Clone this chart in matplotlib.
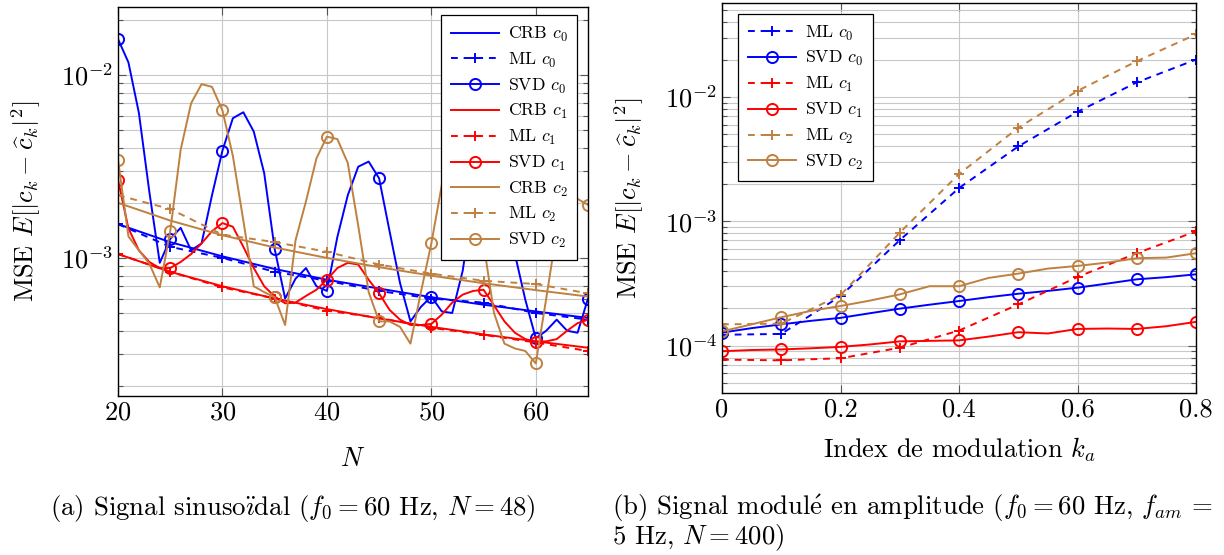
import matplotlib
matplotlib.use('Agg')
import matplotlib.pyplot as plt
from matplotlib.ticker import LogLocator, NullFormatter, MultipleLocator, FuncFormatter

plt.rcParams['font.family'] = ['cmr10', 'DejaVu Serif']
plt.rcParams['mathtext.fontset'] = 'cm'
plt.rcParams['axes.formatter.use_mathtext'] = True

BLUE = '#0000ff'
RED = '#ff0000'
BROWN = '#bf8040'

# ---- (a) signal sinusoidal : MSE vs N ----
n_all = list(range(20, 66))
n_step = list(range(20, 66, 5))

crb_c0 = [1.53e-3, 1.22e-3, 1.02e-3, 8.7e-4, 7.6e-4, 6.8e-4, 6.1e-4, 5.55e-4, 5.1e-4, 4.7e-4]
crb_c1 = [1.05e-3, 8.4e-4, 7.0e-4, 6.0e-4, 5.25e-4, 4.67e-4, 4.2e-4, 3.82e-4, 3.5e-4, 3.23e-4]
crb_c2 = [2.0e-3, 1.6e-3, 1.33e-3, 1.14e-3, 1.0e-3, 8.9e-4, 8.0e-4, 7.27e-4, 6.67e-4, 6.15e-4]

ml_c0 = [1.53e-3, 1.15e-3, 1.0e-3, 8.4e-4, 7.5e-4, 6.6e-4, 6.0e-4, 5.7e-4, 5.0e-4, 4.6e-4]
ml_c1 = [1.05e-3, 8.4e-4, 6.9e-4, 6.0e-4, 5.15e-4, 4.7e-4, 4.15e-4, 3.8e-4, 3.45e-4, 3.1e-4]
ml_c2 = [2.2e-3, 1.85e-3, 1.34e-3, 1.22e-3, 1.08e-3, 9.2e-4, 8.2e-4, 7.5e-4, 7.2e-4, 6.4e-4]

svd_c0 = [1.57e-2, 1.17e-2, 6.2e-3, 2.3e-3, 9.4e-4, 1.27e-3, 1.46e-3, 1.1e-3, 1.2e-3, 2.2e-3,
          3.86e-3, 5.8e-3, 6.25e-3, 4.9e-3, 2.9e-3, 1.12e-3, 6.0e-4, 7.7e-4, 8.8e-4, 7.0e-4,
          6.6e-4, 1.3e-3, 2.2e-3, 3.15e-3, 3.36e-3, 2.72e-3, 1.4e-3, 7.3e-4, 4.5e-4, 5.4e-4,
          6.15e-4, 5.1e-4, 5.0e-4, 8.5e-4, 2.0e-3, 3.0e-3, 3.3e-3, 2.4e-3, 1.05e-3, 5.9e-4,
          3.64e-4, 4.0e-4, 4.6e-4, 4.0e-4, 3.9e-4, 6.0e-4]
svd_c1 = [2.67e-3, 1.45e-3, 1.1e-3, 9.5e-4, 8.8e-4, 8.8e-4, 9.5e-4, 1.05e-3, 1.2e-3, 1.4e-3,
          1.55e-3, 1.48e-3, 1.15e-3, 8.8e-4, 7.0e-4, 6.15e-4, 5.65e-4, 5.7e-4, 6.2e-4, 6.7e-4,
          7.6e-4, 8.8e-4, 9.4e-4, 9.2e-4, 7.6e-4, 6.4e-4, 5.2e-4, 4.6e-4, 4.3e-4, 4.3e-4,
          4.36e-4, 4.9e-4, 5.7e-4, 6.3e-4, 6.6e-4, 6.7e-4, 5.5e-4, 4.5e-4, 3.9e-4, 3.6e-4,
          3.49e-4, 3.5e-4, 3.6e-4, 4.0e-4, 4.4e-4, 4.6e-4]
svd_c2 = [3.44e-3, 1.31e-3, 1.1e-3, 9.3e-4, 6.9e-4, 1.4e-3, 3.9e-3, 7.0e-3, 8.9e-3, 8.6e-3,
          6.4e-3, 3.6e-3, 1.6e-3, 7.0e-4, 6.5e-4, 6.1e-4, 4.3e-4, 1.25e-3, 2.04e-3, 3.5e-3,
          4.6e-3, 4.46e-3, 3.3e-3, 1.5e-3, 6.5e-4, 4.5e-4, 4.5e-4, 4.2e-4, 3.4e-4, 6.5e-4,
          1.2e-3, 2.5e-3, 4.0e-3, 4.3e-3, 3.0e-3, 1.2e-3, 5.0e-4, 3.4e-4, 3.2e-4, 3.1e-4,
          2.65e-4, 6.0e-4, 1.4e-3, 2.1e-3, 2.1e-3, 1.95e-3]

# ---- (b) signal module en amplitude : MSE vs ka ----
ka = [0.0, 0.1, 0.2, 0.3, 0.4, 0.5, 0.6, 0.7, 0.8]
ka_fine = [0.0, 0.05, 0.1, 0.15, 0.2, 0.25, 0.3, 0.35, 0.4, 0.45, 0.5, 0.55, 0.6, 0.65, 0.7, 0.75, 0.8]

ml_b_c0 = [1.22e-4, 1.24e-4, 2.5e-4, 7.05e-4, 1.85e-3, 4.0e-3, 7.6e-3, 1.31e-2, 2.0e-2]
ml_b_c1 = [7.7e-5, 7.6e-5, 7.9e-5, 9.6e-5, 1.32e-4, 2.14e-4, 3.56e-4, 5.53e-4, 8.3e-4]
ml_b_c2 = [1.48e-4, 1.5e-4, 2.55e-4, 8.1e-4, 2.4e-3, 5.65e-3, 1.12e-2, 1.94e-2, 3.19e-2]

svd_b_c0 = [1.27e-4, 1.38e-4, 1.48e-4, 1.58e-4, 1.67e-4, 1.82e-4, 1.98e-4, 2.13e-4, 2.28e-4,
            2.45e-4, 2.61e-4, 2.75e-4, 2.92e-4, 3.15e-4, 3.41e-4, 3.55e-4, 3.74e-4]
svd_b_c1 = [9.0e-5, 9.2e-5, 9.3e-5, 9.5e-5, 9.75e-5, 1.02e-4, 1.08e-4, 1.09e-4, 1.1e-4,
            1.18e-4, 1.28e-4, 1.25e-4, 1.36e-4, 1.37e-4, 1.36e-4, 1.43e-4, 1.55e-4]
svd_b_c2 = [1.3e-4, 1.48e-4, 1.69e-4, 1.9e-4, 2.08e-4, 2.3e-4, 2.58e-4, 3.0e-4, 3.0e-4,
            3.5e-4, 3.79e-4, 4.16e-4, 4.37e-4, 4.65e-4, 5.04e-4, 5.1e-4, 5.53e-4]

LW = 1.4
MS_O = 8
MS_P = 6.5
DASH = (0, (3.5, 3))


def style_axes(ax):
    ax.set_yscale('log')
    ax.yaxis.set_major_locator(LogLocator(base=10, numticks=20))
    ax.yaxis.set_minor_locator(LogLocator(base=10, subs=range(2, 10), numticks=20))
    ax.yaxis.set_minor_formatter(NullFormatter())
    ax.grid(True, which='major', color='#c8c8c8', lw=0.8)
    ax.grid(True, which='minor', axis='y', color='#c8c8c8', lw=0.8)
    ax.set_axisbelow(True)
    ax.tick_params(which='both', direction='in', top=True, right=True, labelsize=19, color='#555555')
    ax.tick_params(which='major', length=6, width=0.8)
    ax.tick_params(which='minor', length=3.5, width=0.8)
    for sp in ax.spines.values():
        sp.set_linewidth(1.0)
    ax.set_ylabel(r'MSE $E[|c_k - \widehat{c}_k|^2]$', fontsize=19, labelpad=13)


def legend_box(ax, **kw):
    leg = ax.legend(fontsize=12.8, handlelength=2.7, labelspacing=0.38, borderpad=0.55,
                    handletextpad=0.5, fancybox=False, framealpha=1, edgecolor='black',
                    borderaxespad=0, **kw)
    leg.get_frame().set_linewidth(0.9)
    return leg


fig = plt.figure(figsize=(12.24, 5.55), dpi=100)
ax1 = fig.add_axes([0.0964, 0.2865, 0.384, 0.7009])
ax2 = fig.add_axes([0.5899, 0.2919, 0.3873, 0.7027])

# panel (a)
for col, crb, ml, svd, k in [(BLUE, crb_c0, ml_c0, svd_c0, 0),
                             (RED, crb_c1, ml_c1, svd_c1, 1),
                             (BROWN, crb_c2, ml_c2, svd_c2, 2)]:
    ax1.plot(n_step, crb, color=col, lw=LW, label=r'CRB $c_%d$' % k)
    ax1.plot(n_step, ml, color=col, lw=LW, ls=DASH, marker='+', ms=MS_P, mew=LW,
             label=r'ML $c_%d$' % k)
    ax1.plot(n_all, svd, color=col, lw=LW, marker='o', mfc='none', ms=MS_O, mew=LW,
             markevery=5, label=r'SVD $c_%d$' % k)

style_axes(ax1)
ax1.set_xlim(20, 65)
ax1.set_ylim(1.76e-4, 2.35e-2)
ax1.xaxis.set_major_locator(MultipleLocator(10))
ax1.set_xlabel(r'$N$', fontsize=19, labelpad=16)
legend_box(ax1, loc='upper right', bbox_to_anchor=(0.977, 0.979))

# panel (b)
for col, ml, svd, k in [(BLUE, ml_b_c0, svd_b_c0, 0),
                        (RED, ml_b_c1, svd_b_c1, 1),
                        (BROWN, ml_b_c2, svd_b_c2, 2)]:
    ax2.plot(ka, ml, color=col, lw=LW, ls=DASH, marker='+', ms=MS_P, mew=LW,
             label=r'ML $c_%d$' % k)
    ax2.plot(ka_fine, svd, color=col, lw=LW, marker='o', mfc='none', ms=MS_O, mew=LW,
             markevery=2, label=r'SVD $c_%d$' % k)

style_axes(ax2)
ax2.set_xlim(0, 0.8)
ax2.set_ylim(4.15e-5, 5.7e-2)
ax2.xaxis.set_major_locator(MultipleLocator(0.2))
ax2.xaxis.set_major_formatter(FuncFormatter(lambda v, p: '0' if v == 0 else '%.1f' % v))
ax2.set_xlabel(r'Index de modulation $k_a$', fontsize=19, labelpad=10)
legend_box(ax2, loc='upper left', bbox_to_anchor=(0.034, 0.972))

# captions
fig.text(50 / 1224, 1 - 508 / 555,
         r'(a) Signal sinuso$\mathrm{\ddot{\imath}}$dal ($f_0 = 60$ Hz, $N = 48$)',
         fontsize=19.3, ha='left', va='center')
fig.text(612 / 1224, 1 - 508 / 555,
         r'(b) Signal modul$\mathrm{\acute{e}}$ en amplitude ($f_0 = 60$ Hz, $f_{am}$ =',
         fontsize=19.3, ha='left', va='center')
fig.text(612 / 1224, 1 - 538 / 555, r'5 Hz, $N = 400$)',
         fontsize=19.3, ha='left', va='center')

fig.savefig('out.png', dpi=100)
